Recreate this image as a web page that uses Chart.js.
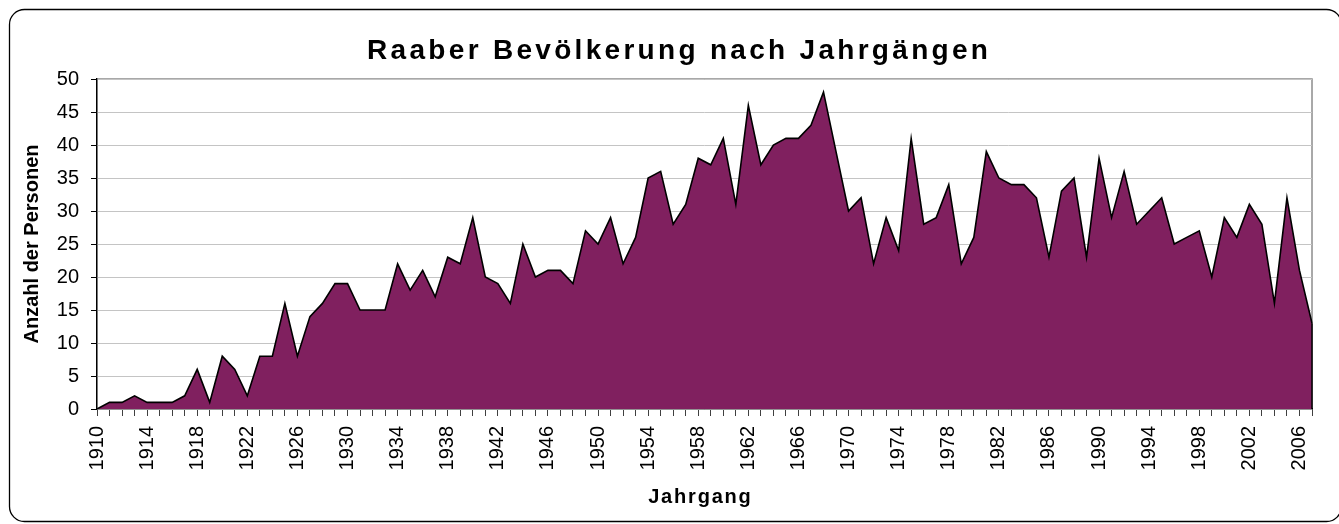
<!DOCTYPE html>
<html>
<head>
<meta charset="utf-8">
<script src="https://cdn.jsdelivr.net/npm/chart.js@4/dist/chart.umd.min.js"></script>
<style>
  html, body { margin: 0; padding: 0; background: #ffffff; }
  #wrap { width: 1339px; height: 524px; position: relative; }
</style>
</head>
<body>
<div id="wrap"><canvas id="c" width="1339" height="524"></canvas></div>
<script>
const chartTitle = "Raaber Bevölkerung nach Jahrgängen";
const xTitle = "Jahrgang";
const yTitle = "Anzahl der Personen";

const years = [
  1910,1911,1912,1913,1914,1915,1916,1917,1918,1919,
  1920,1921,1922,1923,1924,1925,1926,1927,1928,1929,
  1930,1931,1932,1933,1934,1935,1936,1937,1938,1939,
  1940,1941,1942,1943,1944,1945,1946,1947,1948,1949,
  1950,1951,1952,1953,1954,1955,1956,1957,1958,1959,
  1960,1961,1962,1963,1964,1965,1966,1967,1968,1969,
  1970,1971,1972,1973,1974,1975,1976,1977,1978,1979,
  1980,1981,1982,1983,1984,1985,1986,1987,1988,1989,
  1990,1991,1992,1993,1994,1995,1996,1997,1998,1999,
  2000,2001,2002,2003,2004,2005,2006,2007
];

const persons = [
  0,1,1,2,1,1,1,2,6,1,
  8,6,2,8,8,16,8,14,16,19,
  19,15,15,15,22,18,21,17,23,22,
  29,20,19,16,25,20,21,21,19,27,
  25,29,22,26,35,36,28,31,38,37,
  41,31,46,37,40,41,41,43,48,39,
  30,32,22,29,24,41,28,29,34,22,
  26,39,35,34,34,32,23,33,35,23,
  38,29,36,28,30,32,25,26,27,20,
  29,26,31,28,16,32,21,13
];

const yTicks = [0,5,10,15,20,25,30,35,40,45,50];
const xLabelStep = 4;

const FONT = '"Liberation Sans", Arial, Helvetica, sans-serif';

const decor = {
  id: 'decor',
  beforeDraw(chart) {
    const ctx = chart.ctx;
    const a = chart.chartArea;
    ctx.save();
    ctx.fillStyle = '#ffffff';
    ctx.fillRect(0, 0, chart.width, chart.height);
    ctx.strokeStyle = '#000000';
    ctx.lineWidth = 1.3;
    ctx.beginPath();
    ctx.roundRect(9.5, 9.5, 1332, 512, 15);
    ctx.stroke();
    ctx.strokeStyle = '#8c8c8c';
    ctx.lineWidth = 1.5;
    ctx.strokeRect(a.left, a.top, a.right - a.left, a.bottom - a.top);
    ctx.restore();
  },
  afterDatasetsDraw(chart) {
    const ctx = chart.ctx;
    const xs = chart.scales.x, ys = chart.scales.y;
    const last = persons.length - 1;
    const px = xs.getPixelForValue(last);
    ctx.save();
    ctx.strokeStyle = '#000000';
    ctx.lineWidth = 1.5;
    ctx.beginPath();
    ctx.moveTo(px, ys.getPixelForValue(persons[last]));
    ctx.lineTo(px, ys.getPixelForValue(0));
    ctx.stroke();
    ctx.restore();
  },
  afterDraw(chart) {
    const ctx = chart.ctx;
    const a = chart.chartArea;
    ctx.save();
    ctx.fillStyle = '#000000';
    ctx.textBaseline = 'alphabetic';
    ctx.textAlign = 'left';
    ctx.font = 'bold 28px ' + FONT;
    ctx.letterSpacing = '3.3px';
    let w = ctx.measureText(chartTitle).width - 3.3;
    ctx.fillText(chartTitle, 677.5 - w / 2, 59);
    ctx.font = 'bold 20px ' + FONT;
    ctx.letterSpacing = '1.8px';
    w = ctx.measureText(xTitle).width - 1.8;
    ctx.fillText(xTitle, (a.left + a.right) / 2 - 5 - w / 2, 503);
    ctx.restore();
  }
};

new Chart(document.getElementById('c'), {
  type: 'line',
  data: {
    labels: years.map(String),
    datasets: [{
      data: persons,
      borderColor: '#000000',
      borderWidth: 1.6,
      backgroundColor: '#80205f',
      fill: 'origin',
      tension: 0,
      pointRadius: 0,
      pointHoverRadius: 0
    }]
  },
  options: {
    responsive: false,
    animation: false,
    events: [],
    layout: { padding: { left: 0, top: 79, right: 27, bottom: 0 } },
    plugins: {
      legend: { display: false },
      title: { display: false },
      tooltip: { enabled: false }
    },
    scales: {
      x: {
        type: 'category',
        offset: false,
        afterFit(scale) {
          scale.height = 115;
          scale.paddingLeft = 0;
          scale.paddingRight = 0;
        },
        grid: {
          display: true,
          drawOnChartArea: false,
          drawTicks: true,
          tickLength: 7,
          tickColor: '#404040',
          tickWidth: 1
        },
        border: { display: true, color: '#000000', width: 1.3 },
        ticks: {
          autoSkip: false,
          minRotation: 90,
          maxRotation: 90,
          padding: 10,
          color: '#000000',
          font: { family: FONT, size: 20 },
          callback(value, index) {
            return (years[index] - years[0]) % xLabelStep === 0 ? String(years[index]) : '';
          }
        },
        title: { display: false }
      },
      y: {
        min: yTicks[0],
        max: yTicks[yTicks.length - 1],
        afterFit(scale) {
          scale.width = 97;
          scale.paddingTop = 0;
          scale.paddingBottom = 0;
        },
        afterBuildTicks(scale) { scale.ticks = yTicks.map(v => ({ value: v })); },
        grid: {
          color: '#c4c4c4',
          lineWidth: 1,
          drawTicks: true,
          tickLength: 6,
          tickColor: '#000000'
        },
        border: { display: true, color: '#000000', width: 1.3 },
        ticks: {
          padding: 12,
          color: '#000000',
          font: { family: FONT, size: 20 }
        },
        title: {
          display: true,
          text: yTitle,
          color: '#000000',
          font: { family: FONT, size: 20, weight: 'bold' },
          padding: { top: 20, bottom: 0 }
        }
      }
    }
  },
  plugins: [decor]
});
</script>
</body>
</html>
